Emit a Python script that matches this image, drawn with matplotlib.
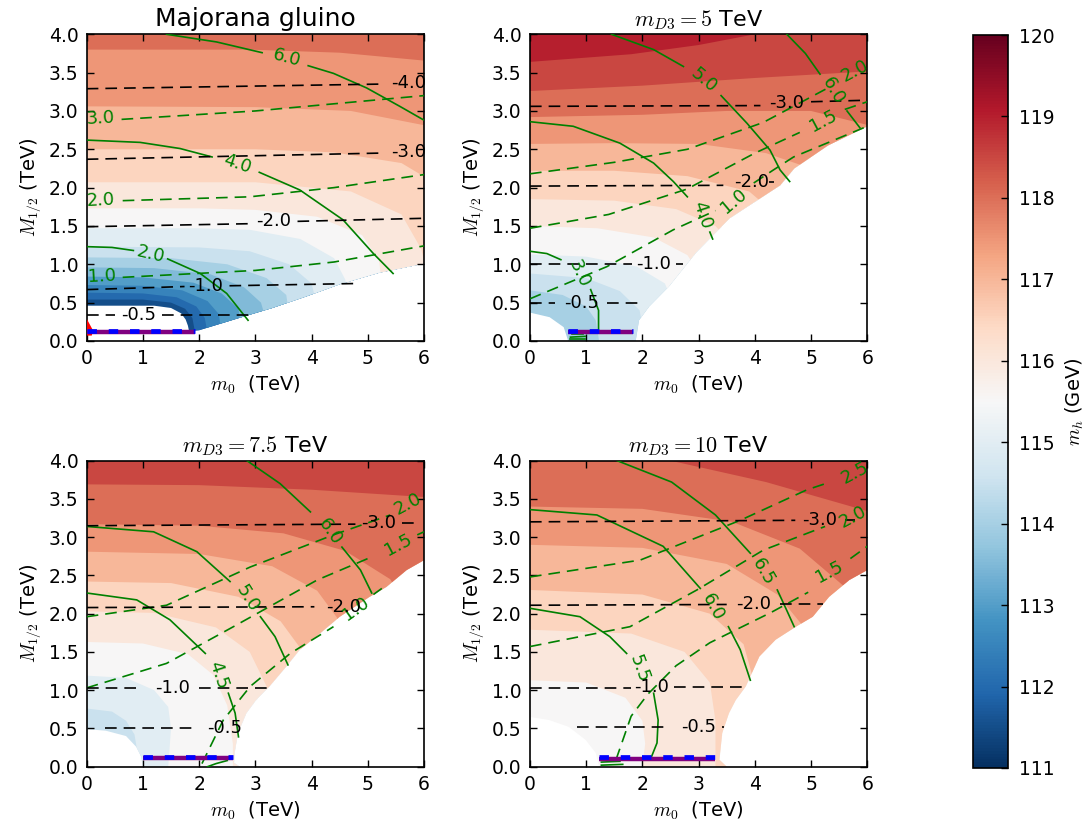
import matplotlib
matplotlib.use('Agg')
import matplotlib.pyplot as plt
from matplotlib.patches import Polygon
from matplotlib.colors import Normalize
from matplotlib.cm import ScalarMappable

plt.rcParams['font.family'] = ['DejaVu Sans']
plt.rcParams['mathtext.fontset'] = 'cm'

# ------------------------------------------------------------------ data
TITLES = ['Majorana gluino', r'$m_{D3}=5$ TeV', r'$m_{D3}=7.5$ TeV', r'$m_{D3}=10$ TeV']
MH_MIN, MH_MAX = 111, 120
CBAR_TICKS = list(range(111, 121))
X_TICKS = [0, 1, 2, 3, 4, 5, 6]
Y_TICKS = [0.0, 0.5, 1.0, 1.5, 2.0, 2.5, 3.0, 3.5, 4.0]

# ---- panel 1 : Majorana gluino
P1_VALID = [(0, 4), (6, 4), (6, 1.01), (5.2, 0.89), (4.5, 0.74), (3.9, 0.58), (3.3, 0.43),
            (2.8, 0.32), (2.4, 0.23), (2.0, 0.14), (1.82, 0.13), (1.8, 0.2), (1.76, 0.28),
            (1.68, 0.36), (1.5, 0.43), (1.2, 0.46), (0, 0.46)]
P1_LEVELS = [111.75, 112.25, 112.75, 113.25, 113.75, 114.25, 114.75, 115.25, 115.75,
             116.25, 116.75, 117.25, 117.75]
P1_ARCS = [
    [(0, 0.54), (1.0, 0.54), (1.5, 0.50), (1.75, 0.42), (1.88, 0.30), (1.93, 0.10)],
    [(0, 0.63), (1.0, 0.62), (1.6, 0.57), (1.95, 0.45), (2.1, 0.30), (2.15, 0.10)],
    [(0, 0.73), (1.0, 0.72), (1.7, 0.66), (2.15, 0.52), (2.35, 0.35), (2.4, 0.10)],
    [(0, 0.84), (1.0, 0.83), (1.9, 0.76), (2.4, 0.62), (2.7, 0.42), (2.75, 0.15)],
    [(0, 0.96), (1.2, 0.95), (2.2, 0.87), (2.8, 0.70), (3.1, 0.50), (3.2, 0.25)],
    [(0, 1.09), (1.5, 1.08), (2.5, 1.00), (3.2, 0.82), (3.55, 0.60), (3.6, 0.35)],
    [(0, 1.23), (2.0, 1.22), (2.9, 1.17), (3.6, 1.00), (4.0, 0.75), (4.1, 0.45)],
    [(0, 1.47), (2.0, 1.47), (2.9, 1.45), (3.8, 1.33), (4.4, 1.08), (4.6, 0.80), (4.65, 0.55)],
    [(0, 1.73), (2.0, 1.73), (3.0, 1.71), (4.1, 1.62), (4.9, 1.38), (5.2, 1.05), (5.25, 0.75)],
    [(0, 2.07), (2.0, 2.07), (3.0, 2.07), (4.7, 1.95), (5.6, 1.65), (5.95, 1.20), (6.05, 0.90)],
    [(0, 2.50), (3.0, 2.50), (4.4, 2.46), (5.6, 2.32), (6.1, 2.10)],
    [(0, 3.06), (3.0, 3.05), (4.7, 3.00), (6.1, 2.80)],
    [(0, 3.80), (2.9, 3.80), (4.5, 3.76), (6.1, 3.65)],
]
P1_SOLID = [
    ('2.0', (1.13, 1.13), -13, [[(0, 1.23), (0.45, 1.22), (0.83, 1.18)],
                                [(1.44, 1.07), (2.02, 0.88), (2.49, 0.62), (2.87, 0.27)]]),
    ('4.0', (2.67, 2.31), -19, [[(0, 2.62), (0.95, 2.59), (1.66, 2.51), (2.23, 2.40)],
                                [(3.07, 2.20), (3.79, 1.97), (4.56, 1.58), (5.1, 1.14), (5.45, 0.88)]]),
    ('6.0', (3.56, 3.69), -15, [[(1.42, 4.0), (2.31, 3.90), (3.12, 3.76)],
                                [(3.94, 3.59), (4.39, 3.49), (4.98, 3.30), (5.57, 3.06), (6.0, 2.88)]]),
]
P1_DASHED = [
    ('3.0', (0.25, 2.90), 3, [[(0.62, 2.89), (3.0, 3.0), (6.0, 3.2)]]),
    ('2.0', (0.25, 1.84), 3, [[(0.64, 1.83), (2.9, 1.88), (4.4, 2.0), (6.0, 2.17)]]),
    ('1.0', (0.27, 0.85), 3, [[(0.64, 0.83), (3.0, 0.92), (4.4, 1.03), (6.0, 1.24)]]),
]
P1_BLACK = [
    ('-4.0', (5.72, 3.37), 0, [[(0, 3.29), (5.2, 3.35)]]),
    ('-3.0', (5.72, 2.47), 0, [[(0, 2.37), (5.2, 2.45)]]),
    ('-2.0', (3.33, 1.56), 0, [[(0, 1.49), (2.94, 1.53)], [(3.75, 1.56), (6.0, 1.60)]]),
    ('-1.0', (2.12, 0.72), 0, [[(0, 0.67), (1.74, 0.71)], [(2.54, 0.72), (4.86, 0.75)]]),
    ('-0.5', (0.92, 0.34), 0, [[(0, 0.34), (0.5, 0.34)], [(1.34, 0.34), (3.0, 0.34)]]),
]
P1_LIMIT = (0.0, 1.93, 0.125)
P1_EXTRA_GREEN = []
P1_RED = [(0, 0.07), (0, 0.29), (0.11, 0.14), (0.09, 0.07)]

# ---- panel 2 : m_D3 = 5 TeV
P2_VALID = [(0, 4), (6, 4), (6, 2.80), (5.3, 2.55), (4.7, 2.25), (4.45, 2.03), (3.55, 1.6),
            (2.95, 1.15), (2.47, 0.71), (2.12, 0.45), (1.94, 0.27), (1.88, 0.0), (0.68, 0.0),
            (0.6, 0.18), (0.35, 0.31), (0, 0.37)]
P2_LEVELS = [114.25, 114.75, 115.25, 115.75, 116.25, 116.75, 117.25, 117.75, 118.25, 118.75]
P2_ARCS = [
    [(0, 0.66), (0.58, 0.60), (1.0, 0.45), (1.17, 0.27), (1.23, 0.0)],
    [(0, 0.88), (1.0, 0.82), (1.6, 0.65), (1.95, 0.40), (2.05, 0.0)],
    [(0, 1.13), (1.0, 1.10), (1.9, 0.97), (2.4, 0.75), (2.6, 0.40)],
    [(0, 1.50), (1.2, 1.47), (2.2, 1.35), (2.8, 1.12), (3.0, 0.90)],
    [(0, 1.85), (1.5, 1.83), (2.6, 1.72), (3.3, 1.50), (3.6, 1.25)],
    [(0, 2.22), (1.5, 2.22), (2.8, 2.15), (3.9, 1.95), (4.3, 1.70)],
    [(0, 2.57), (1.5, 2.58), (3.0, 2.57), (4.2, 2.45), (5.0, 2.25), (5.2, 2.00)],
    [(0, 2.92), (2.0, 2.95), (3.5, 3.00), (5.0, 3.00), (6.1, 2.80)],
    [(0, 3.26), (2.0, 3.33), (4.0, 3.43), (6.1, 3.52)],
    [(0, 3.64), (1.8, 3.74), (3.0, 3.86), (4.0, 4.0), (4.3, 4.3)],
]
P2_SOLID = [
    ('3.0', (0.88, 0.88), -65, [[(0, 1.17), (0.3, 1.14), (0.55, 1.06)],
                                [(1.08, 0.67), (1.22, 0.40), (1.22, 0.14)]]),
    ('4.0', (3.06, 1.64), -72, [[(0, 2.86), (0.77, 2.80), (1.6, 2.58), (2.2, 2.32), (2.55, 2.08), (2.8, 1.88)],
                                [(3.2, 1.42), (3.25, 1.33)]]),
    ('5.0', (3.09, 3.40), -40, [[(1.45, 4.0), (2.2, 3.80), (2.73, 3.58)],
                                [(3.4, 3.20), (3.86, 2.84), (4.27, 2.49), (4.45, 2.23), (4.62, 2.08)]]),
    ('6.0', (5.40, 3.26), -60, [[(4.57, 4.0), (4.9, 3.75), (5.16, 3.48)],
                                [(5.64, 3.00), (5.87, 2.78)]]),
]
P2_DASHED = [
    ('2.0', (5.78, 3.52), 28, [[(0, 2.18), (1.5, 2.33), (2.8, 2.50), (4.15, 2.85), (5.3, 3.30)]]),
    ('1.5', (5.22, 2.87), 28, [[(0, 1.47), (1.4, 1.65), (2.79, 1.98), (4.0, 2.45), (4.8, 2.72)],
                               [(5.6, 3.02), (6.0, 3.12)]]),
    ('1.0', (3.62, 1.83), 40, [[(0, 0.55), (1.37, 0.97), (2.55, 1.45), (3.3, 1.70)],
                               [(3.98, 2.06), (4.33, 2.23), (4.69, 2.40), (6.0, 2.80)]]),
]
P2_BLACK = [
    ('-3.0', (4.56, 3.10), 0, [[(0, 3.06), (4.1, 3.07)], [(5.0, 3.12), (6.0, 3.14)]]),
    ('-2.0', (3.95, 2.07), 0, [[(0, 2.02), (3.44, 2.03)], [(4.25, 2.07), (4.35, 2.07)]]),
    ('-1.0', (2.2, 1.00), 0, [[(0, 1.00), (1.81, 1.00)], [(2.6, 1.00), (2.72, 1.00)]]),
    ('-0.5', (0.92, 0.50), 0, [[(0, 0.50), (0.45, 0.50)], [(1.37, 0.50), (1.96, 0.50)]]),
]
P2_LIMIT = (0.67, 1.84, 0.125)
P2_EXTRA_GREEN = [[(0.72, 0.02), (0.98, 0.02)], [(0.72, 0.05), (0.98, 0.06)], [(0.75, 0.09), (0.95, 0.09)]]
P2_RED = []

# ---- panel 3 : m_D3 = 7.5 TeV
P3_VALID = [(0, 4), (6, 4), (6, 2.70), (5.69, 2.57), (5.33, 2.35), (5.03, 2.22), (4.5, 1.96),
            (4.08, 1.70), (3.79, 1.53), (3.55, 1.31), (3.25, 1.05), (3.01, 0.87), (2.84, 0.70),
            (2.69, 0.44), (2.63, 0.18), (2.62, 0.05), (2.72, 0.0), (1.0, 0.0), (0.97, 0.13),
            (0.88, 0.26), (0.7, 0.40), (0.34, 0.47), (0, 0.49)]
P3_LEVELS = [114.75, 115.25, 115.75, 116.25, 116.75, 117.25, 117.75, 118.25]
P3_ARCS = [
    [(0, 0.76), (0.45, 0.72), (0.7, 0.60), (0.85, 0.42), (0.9, 0.20)],
    [(0, 1.19), (0.7, 1.16), (1.2, 1.00), (1.45, 0.78), (1.5, 0.50), (1.45, 0.0)],
    [(0, 1.63), (1.0, 1.61), (1.8, 1.47), (2.25, 1.20), (2.5, 0.80), (2.6, 0.30), (2.6, 0.0)],
    [(0, 2.03), (1.2, 2.01), (2.3, 1.82), (2.9, 1.50), (3.2, 1.05), (3.2, 0.80)],
    [(0, 2.42), (1.5, 2.40), (2.7, 2.22), (3.45, 1.90), (3.85, 1.50), (3.9, 1.30)],
    [(0, 2.81), (2.0, 2.78), (3.3, 2.62), (4.1, 2.30), (4.45, 1.95), (4.5, 1.70)],
    [(0, 3.17), (2.0, 3.15), (3.5, 3.05), (4.6, 2.82), (5.4, 2.45), (5.6, 2.20)],
    [(0, 3.69), (2.0, 3.68), (4.0, 3.62), (6.1, 3.52)],
]
P3_SOLID = [
    ('4.5', (2.34, 1.20), -72, [[(0, 2.27), (0.89, 2.18), (1.48, 1.92), (2.11, 1.48)],
                                [(2.52, 0.96), (2.64, 0.70), (2.70, 0.39)]]),
    ('5.0', (2.85, 2.20), -58, [[(0, 3.14), (1.19, 3.07), (1.96, 2.81), (2.55, 2.42)],
                                [(3.09, 1.96), (3.35, 1.70), (3.58, 1.33)]]),
    ('6.0', (4.33, 3.07), -55, [[(2.85, 4.0), (3.44, 3.70), (3.98, 3.33)],
                                [(4.54, 2.87), (4.87, 2.57), (5.07, 2.27)]]),
]
P3_DASHED = [
    ('2.0', (5.72, 3.43), 28, [[(0, 1.96), (1.42, 2.11), (2.91, 2.61), (4.39, 3.03), (5.4, 3.29)]]),
    ('1.5', (5.55, 2.90), 28, [[(0, 1.03), (1.42, 1.35), (2.61, 1.83), (4.1, 2.44), (5.0, 2.72)],
                               [(5.88, 3.03), (6.0, 3.07)]]),
    ('1.0', (4.78, 2.06), 35, [[(2.05, 0.04), (2.43, 0.61), (2.91, 1.05), (3.62, 1.48), (4.39, 1.83)],
                               [(5.1, 2.25), (5.25, 2.33)]]),
]
P3_BLACK = [
    ('-3.0', (5.19, 3.18), 0, [[(0, 3.15), (4.78, 3.17)], [(5.6, 3.18), (5.9, 3.18)]]),
    ('-2.0', (4.57, 2.09), 0, [[(0, 2.08), (4.05, 2.09)]]),
    ('-1.0', (1.52, 1.03), 0, [[(0, 1.03), (0.93, 1.03)], [(2.0, 1.03), (3.22, 1.03)]]),
    ('-0.5', (2.45, 0.50), 0, [[(0.33, 0.50), (1.96, 0.50)]]),
]
P3_LIMIT = (1.0, 2.61, 0.12)
P3_EXTRA_GREEN = [[(2.15, 0.0), (2.3, 0.04), (2.5, 0.08)]]
P3_RED = []

# ---- panel 4 : m_D3 = 10 TeV
P4_VALID = [(0, 4), (6, 4), (6, 2.57), (5.68, 2.44), (5.32, 2.22), (5.03, 1.96), (4.73, 1.83),
            (4.37, 1.66), (4.08, 1.44), (3.84, 1.05), (3.66, 0.87), (3.54, 0.70), (3.42, 0.44),
            (3.37, 0.09), (3.5, 0.0), (1.23, 0.0), (1.17, 0.18), (0.99, 0.35), (0.69, 0.52),
            (0.34, 0.61), (0, 0.65)]
P4_LEVELS = [115.75, 116.25, 116.75, 117.25, 117.75, 118.25]
P4_ARCS = [
    [(0, 1.13), (1.0, 1.10), (1.7, 0.90), (2.0, 0.60), (2.05, 0.30), (2.0, 0.0)],
    [(0, 1.79), (1.8, 1.74), (2.75, 1.50), (3.2, 1.10), (3.3, 0.60), (3.3, 0.0)],
    [(0, 2.31), (2.0, 2.25), (3.2, 2.00), (3.8, 1.60), (3.95, 1.20), (3.95, 0.80)],
    [(0, 2.90), (2.0, 2.86), (3.5, 2.65), (4.4, 2.25), (4.9, 1.80), (5.0, 1.50)],
    [(0, 3.40), (2.0, 3.37), (3.6, 3.20), (4.8, 2.85), (5.6, 2.35), (5.8, 2.00)],
    [(2.5, 4.0), (4.2, 3.72), (6.1, 3.32)],
]
P4_SOLID = [
    ('5.5', (1.95, 1.28), -70, [[(0, 2.07), (0.89, 1.96), (1.42, 1.70), (1.72, 1.48)],
                                [(2.2, 0.96), (2.28, 0.61), (2.26, 0.31), (2.14, 0.09)]]),
    ('6.0', (3.26, 2.09), -62, [[(0, 3.36), (1.19, 3.29), (2.37, 2.88), (3.03, 2.33)],
                                [(3.53, 1.83), (3.74, 1.53), (3.92, 1.13)]]),
    ('6.5', (4.15, 2.55), -60, [[(1.55, 4.0), (2.52, 3.72), (3.3, 3.29), (3.92, 2.79)],
                                [(4.4, 2.31), (4.57, 2.04), (4.7, 1.83)]]),
]
P4_DASHED = [
    ('2.5', (5.78, 3.84), 28, [[(0, 2.48), (1.96, 2.70), (3.74, 3.22), (4.93, 3.62), (5.34, 3.72)]]),
    ('2.0', (5.75, 3.27), 28, [[(0, 1.57), (1.78, 1.83), (2.97, 2.31), (4.15, 2.83), (5.25, 3.14)]]),
    ('1.5', (5.32, 2.54), 28, [[(1.53, 0.09), (1.8, 0.66), (2.1, 0.95), (2.6, 1.32), (3.2, 1.62),
                                (4.3, 2.02), (4.95, 2.28)], [(5.7, 2.72), (6.0, 2.88)]]),
]
P4_BLACK = [
    ('-3.0', (5.16, 3.23), 0, [[(0, 3.20), (4.72, 3.22)], [(5.6, 3.23), (5.78, 3.23)]]),
    ('-2.0', (3.98, 2.13), 0, [[(0, 2.11), (3.5, 2.12)], [(4.44, 2.13), (5.22, 2.13)]]),
    ('-1.0', (2.17, 1.04), 0, [[(0, 1.03), (1.8, 1.03)], [(2.57, 1.04), (3.86, 1.04)]]),
    ('-0.5', (3.0, 0.52), 0, [[(0.83, 0.52), (2.49, 0.52)], [(3.42, 0.52), (3.46, 0.52)]]),
]
P4_LIMIT = (1.23, 3.29, 0.115)
P4_EXTRA_GREEN = [[(1.27, 0.02), (1.65, 0.03)], [(1.27, 0.06), (1.6, 0.07)]]
P4_RED = []

PANELS = [
    (P1_VALID, P1_LEVELS, P1_ARCS, P1_SOLID, P1_DASHED, P1_BLACK, P1_LIMIT, P1_EXTRA_GREEN, P1_RED),
    (P2_VALID, P2_LEVELS, P2_ARCS, P2_SOLID, P2_DASHED, P2_BLACK, P2_LIMIT, P2_EXTRA_GREEN, P2_RED),
    (P3_VALID, P3_LEVELS, P3_ARCS, P3_SOLID, P3_DASHED, P3_BLACK, P3_LIMIT, P3_EXTRA_GREEN, P3_RED),
    (P4_VALID, P4_LEVELS, P4_ARCS, P4_SOLID, P4_DASHED, P4_BLACK, P4_LIMIT, P4_EXTRA_GREEN, P4_RED),
]

# ------------------------------------------------------------------ drawing
cmap = plt.get_cmap('RdBu_r')
norm = Normalize(MH_MIN, MH_MAX)
GREEN = '#008000'
LBL_FS = 13
TITLE_FS = [18, 16, 16, 16]


def region_above(arc):
    xs = [p[0] for p in arc]
    ys = [p[1] for p in arc]
    from_top = ys[0] >= 4.0
    poly = [(xs[0], 4.6)] if from_top else [(-0.6, ys[0])]
    poly += list(arc)
    if ys[-1] >= 4.0:
        poly += [(xs[-1], 4.6)]
    elif xs[-1] >= 6.0:
        poly += [(6.6, ys[-1]), (6.6, 4.6)]
    else:
        poly += [(xs[-1], -0.6), (6.6, -0.6), (6.6, 4.6)]
    if not from_top:
        poly += [(-0.6, 4.6)]
    return poly


def draw_lines(ax, specs, color, dashed):
    for text, (lx, ly), rot, segs in specs:
        for seg in segs:
            xs = [p[0] for p in seg]
            ys = [p[1] for p in seg]
            if dashed:
                ax.plot(xs, ys, color=color, lw=1.2, dashes=(7.0, 4.2), zorder=4)
            else:
                ax.plot(xs, ys, color=color, lw=1.2, zorder=4)
        ax.text(lx, ly, text, color=color, fontsize=LBL_FS, rotation=rot,
                rotation_mode='anchor', ha='center', va='center', zorder=5)


fig = plt.figure(figsize=(10.88, 8.30), dpi=100)
positions = [[0.0797, 0.5892, 0.3100, 0.3695], [0.4871, 0.5892, 0.3100, 0.3695],
             [0.0797, 0.0763, 0.3100, 0.3687], [0.4871, 0.0763, 0.3100, 0.3687]]

for pos, title, tfs, panel in zip(positions, TITLES, TITLE_FS, PANELS):
    valid, levels, arcs, solid, dashed, black, limit, extra_g, red = panel
    ax = fig.add_axes(pos)
    ax.set_xlim(0, 6)
    ax.set_ylim(0, 4)
    clip = Polygon(valid, closed=True, transform=ax.transData)
    base = Polygon(valid, closed=True, facecolor=cmap(norm(levels[0] - 0.25)),
                   edgecolor='none', zorder=1)
    ax.add_patch(base)
    for lev, arc in zip(levels, arcs):
        p = Polygon(region_above(arc), closed=True, facecolor=cmap(norm(lev + 0.25)),
                    edgecolor='none', zorder=1)
        ax.add_patch(p)
        p.set_clip_path(clip)
    if red:
        ax.add_patch(Polygon(red, closed=True, facecolor='red', edgecolor='none', zorder=3))
    for seg in extra_g:
        ax.plot([p[0] for p in seg], [p[1] for p in seg], color=GREEN, lw=1.2, zorder=4)
    draw_lines(ax, solid, GREEN, False)
    draw_lines(ax, dashed, GREEN, True)
    draw_lines(ax, black, 'black', True)
    x0, x1, yl = limit
    ax.plot([x0, x1], [yl - 0.01, yl - 0.01], color='purple', lw=3.2, solid_capstyle='butt', zorder=6)
    ax.plot([x0, x1], [yl + 0.01, yl + 0.01], color='blue', lw=3.4, dashes=(2.0, 2.5),
            dash_capstyle='butt', zorder=7)

    ax.set_xticks(X_TICKS)
    ax.set_yticks(Y_TICKS)
    ax.set_yticklabels(['%.1f' % v for v in Y_TICKS])
    ax.tick_params(direction='in', length=5, width=1, top=True, right=True, labelsize=13.5, pad=6)
    for s in ax.spines.values():
        s.set_linewidth(1.2)
    ax.set_xlabel(r'$m_0$  (TeV)', fontsize=14, labelpad=4)
    ax.set_ylabel(r'$M_{1/2}$ (TeV)', fontsize=14, labelpad=4)
    ax.set_title(title, fontsize=tfs, pad=6)

cax = fig.add_axes([0.8943, 0.0747, 0.0322, 0.8831])
cb = fig.colorbar(ScalarMappable(norm=norm, cmap=cmap), cax=cax)
cb.set_ticks(CBAR_TICKS)
cax.tick_params(direction='in', length=5, width=1, labelsize=13.5, pad=8)
cb.outline.set_linewidth(1.2)
cb.set_label(r'$m_h$ (GeV)', fontsize=14, labelpad=6)

fig.savefig('out.png', dpi=100)
